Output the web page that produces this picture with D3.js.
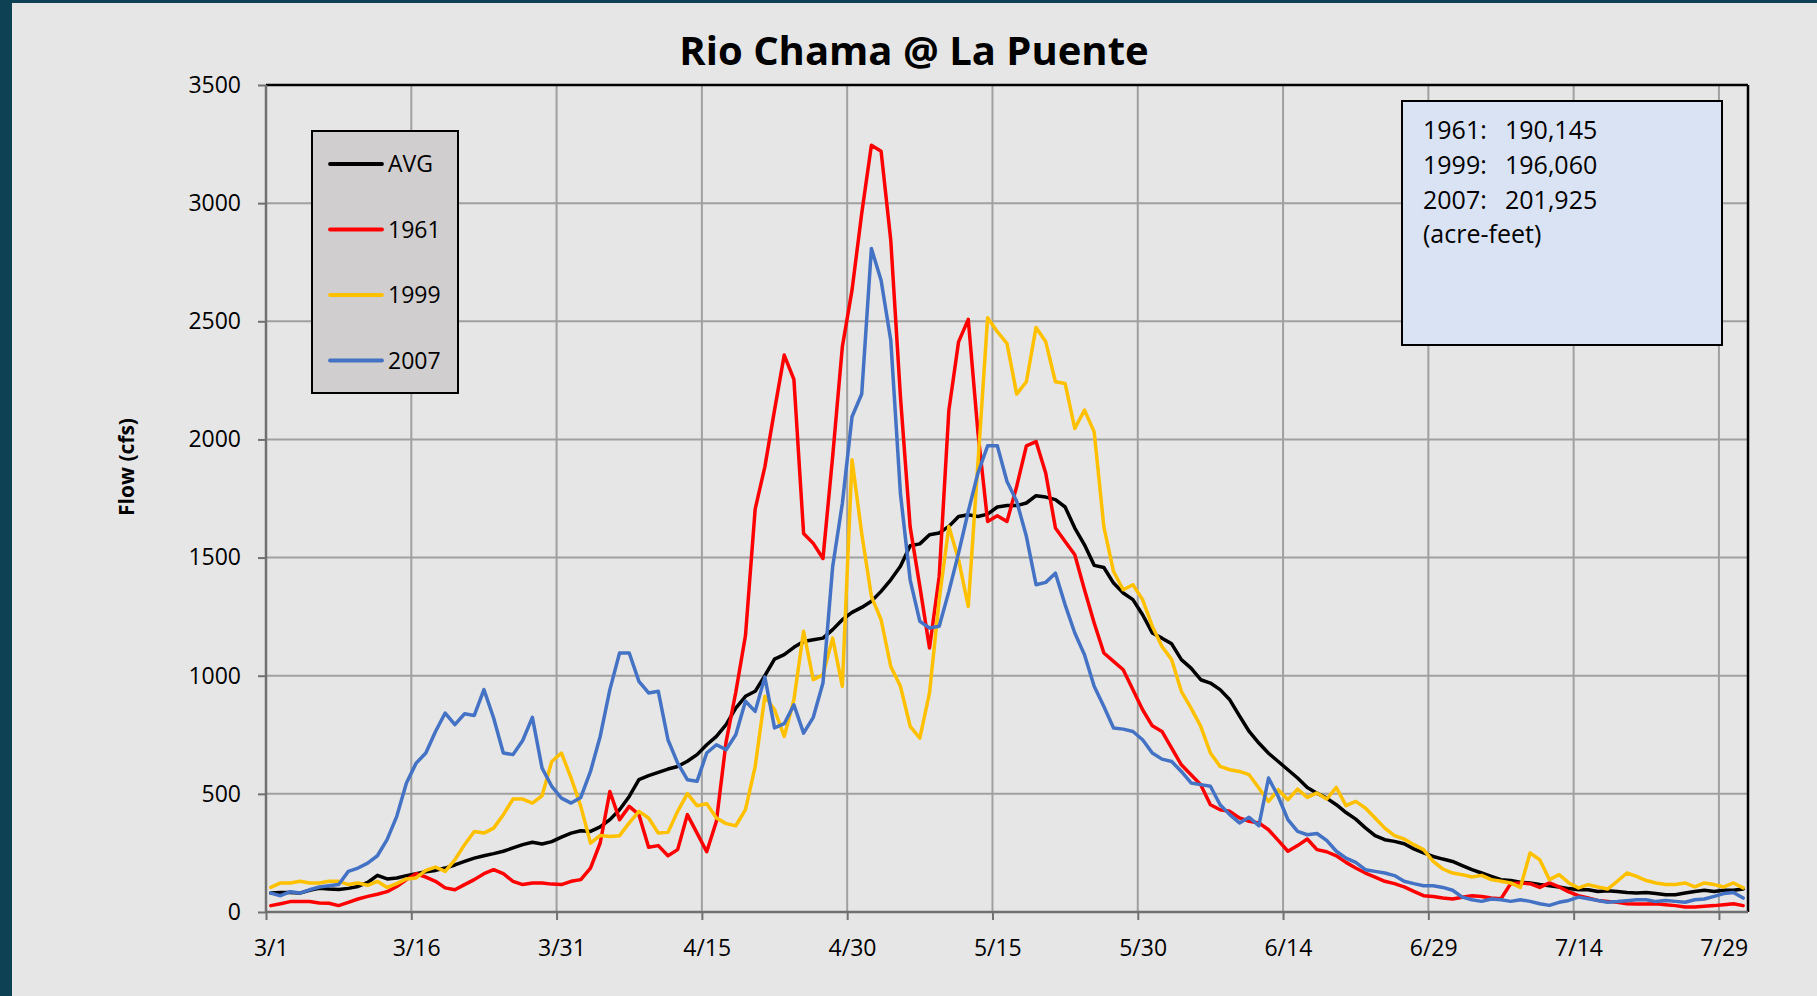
<!DOCTYPE html>
<html>
<head>
  <meta charset="utf-8">
  <title>Rio Chama @ La Puente</title>
  <script src="https://d3js.org/d3.v7.min.js"></script>
  <style>
    body { margin: 0; background: #0e4153; }
    svg { display: block; font-family: "Open Sans", sans-serif; }
  </style>
</head>
<body>
<script>
  // daily flow in cfs, one value per day from 3/1 to 7/31
  var avgFlow = [
    80, 83, 83, 80, 92, 100, 97, 95, 100, 108,
    125, 155, 140, 144, 154, 162, 170, 176, 186, 199,
    214, 228, 238, 247, 257, 271, 285, 295, 288, 298,
    317, 334, 344, 341, 360, 391, 433, 489, 560, 577,
    591, 605, 616, 638, 666, 708, 743, 793, 863, 913,
    934, 1000, 1070, 1089, 1120, 1145, 1152, 1159, 1195, 1237,
    1268, 1289, 1315, 1357, 1406, 1463, 1550, 1558, 1597, 1604,
    1632, 1674, 1681, 1674, 1684, 1714, 1720, 1720, 1731, 1762,
    1756, 1745, 1714, 1625, 1554, 1467, 1458, 1392, 1350, 1322,
    1258, 1181, 1159, 1135, 1068, 1032, 983, 969, 941, 898,
    830, 764, 715, 672, 637, 602, 567, 527, 503, 482,
    454, 421, 393, 356, 323, 306, 299, 289, 267, 250,
    235, 224, 214, 196, 179, 165, 151, 137, 133, 126,
    123, 116, 111, 106, 99, 94, 94, 87, 90, 87,
    83, 80, 83, 78, 73, 73, 80, 87, 92, 87,
    92, 92, 97
  ];
  var flow1961 = [
    27, 35, 44, 44, 44, 38, 37, 27, 41, 55,
    66, 75, 86, 108, 137, 162, 148, 130, 102, 94,
    116, 137, 162, 179, 162, 130, 116, 123, 123, 118,
    116, 130, 137, 186, 292, 510, 391, 447, 412, 274,
    281, 238, 264, 412, 334, 255, 384, 720, 930, 1170,
    1705, 1884, 2124, 2357, 2254, 1602, 1560, 1496, 1927, 2392,
    2632, 2956, 3245, 3220, 2843, 2180, 1630, 1378, 1117, 1420,
    2124, 2413, 2508, 2030, 1653, 1677, 1653, 1801, 1973, 1991,
    1857, 1625, 1568, 1512, 1364, 1223, 1096, 1061, 1025, 941,
    856, 788, 764, 694, 623, 581, 539, 454, 433, 426,
    398, 384, 377, 348, 303, 257, 281, 309, 264, 255,
    238, 210, 186, 165, 148, 130, 120, 106, 87, 69,
    66, 59, 55, 62, 69, 66, 59, 56, 120, 123,
    120, 104, 123, 106, 85, 69, 59, 49, 45, 41,
    35, 34, 34, 35, 31, 27, 21, 21, 24, 27,
    31, 35, 27
  ];
  var flow1999 = [
    104, 123, 123, 130, 123, 123, 130, 130, 116, 123,
    113, 130, 104, 120, 140, 144, 176, 190, 172, 221,
    285, 341, 334, 355, 412, 478, 478, 461, 492, 637,
    673, 567, 447, 292, 324, 320, 323, 377, 426, 398,
    334, 337, 426, 501, 450, 458, 398, 374, 365, 433,
    615, 913, 856, 743, 898, 1188, 983, 1004, 1159, 955,
    1914, 1602, 1336, 1237, 1039, 955, 786, 736, 927, 1322,
    1632, 1491, 1293, 1900, 2515, 2456, 2406, 2192, 2244, 2474,
    2413, 2244, 2237, 2046, 2124, 2032, 1630, 1441, 1364, 1385,
    1322, 1209, 1124, 1068, 934, 863, 786, 673, 616, 602,
    595, 581, 525, 468, 518, 475, 520, 485, 504, 478,
    527, 450, 468, 440, 398, 355, 323, 309, 285, 264,
    214, 182, 165, 158, 148, 155, 137, 130, 123, 104,
    250, 221, 137, 158, 123, 102, 116, 106, 97, 130,
    165, 151, 133, 123, 116, 116, 123, 106, 123, 116,
    106, 123, 102
  ];
  var flow2007 = [
    80, 69, 86, 80, 94, 106, 111, 116, 172, 186,
    207, 238, 306, 405, 546, 630, 673, 764, 842, 793,
    839, 832, 941, 821, 673, 666, 726, 824, 609, 532,
    482, 461, 485, 595, 743, 941, 1096, 1096, 976, 927,
    934, 729, 630, 560, 553, 673, 708, 687, 750, 892,
    849, 994, 779, 797, 877, 757, 824, 969, 1461, 1729,
    2096, 2192, 2808, 2674, 2420, 1770, 1406, 1230, 1202, 1209,
    1357, 1519, 1695, 1858, 1973, 1973, 1822, 1738, 1590, 1385,
    1395, 1434, 1300, 1181, 1089, 955, 870, 779, 774, 764,
    729, 673, 647, 637, 595, 546, 539, 532, 454, 412,
    377, 401, 365, 567, 489, 391, 341, 327, 332, 303,
    257, 228, 210, 179, 172, 165, 154, 130, 120, 111,
    111, 104, 92, 63, 52, 45, 55, 52, 45, 52,
    45, 35, 28, 41, 49, 63, 56, 49, 41, 44,
    48, 52, 52, 44, 49, 45, 41, 52, 55, 66,
    78, 83, 59
  ];
  var seriesNames = ['AVG', '1961', '1999', '2007'];
  var seriesColors = ['#000000', '#ff0000', '#ffc000', '#4472c4'];
  var tickDays = [0, 15, 30, 45, 60, 75, 90, 105, 120, 135, 150];
  var tickLabels = ['3/1', '3/16', '3/31', '4/15', '4/30', '5/15', '5/30', '6/14', '6/29', '7/14', '7/29'];
  var yTicks = [0, 500, 1000, 1500, 2000, 2500, 3000, 3500];
  var volumeYears = ['1961:', '1999:', '2007:'];
  var volumeValues = ['190,145', '196,060', '201,925'];

  var W = 1817, H = 996
  var plotL = 266, plotR = 1748, plotT = 85, plotB = 912

  var svg = d3.select('body').append('svg')
      .attr('width', W)
      .attr('height', H)

  // chart background inside the dark frame
  svg.append('rect')
      .attr('x', 12).attr('y', 3)
      .attr('width', W - 12).attr('height', H - 3)
      .attr('fill', '#e6e6e6')

  var x = d3.scaleLinear().domain([0, 153]).range([plotL, plotR])
  var y = d3.scaleLinear().domain([0, 3500]).range([plotB, plotT])

  // gridlines
  svg.append('g').selectAll('line')
      .data(yTicks.slice(1, -1))
      .enter().append('line')
      .attr('x1', plotL).attr('x2', plotR)
      .attr('y1', function (d) { return y(d) })
      .attr('y2', function (d) { return y(d) })
      .attr('stroke', '#a0a0a0')
      .attr('stroke-width', 2)
  svg.append('g').selectAll('line')
      .data(tickDays.slice(1))
      .enter().append('line')
      .attr('x1', function (d) { return x(d) })
      .attr('x2', function (d) { return x(d) })
      .attr('y1', plotT).attr('y2', plotB)
      .attr('stroke', '#a0a0a0')
      .attr('stroke-width', 2)

  // series lines, points sit in the middle of each day
  var allSeries = [avgFlow, flow1961, flow1999, flow2007]
  var line = d3.line()
      .x(function (d, i) { return x(i + 0.5) })
      .y(function (d) { return y(d) })
  svg.append('g').selectAll('path')
      .data(allSeries)
      .enter().append('path')
      .attr('d', line)
      .attr('fill', 'none')
      .attr('stroke', function (d, i) { return seriesColors[i] })
      .attr('stroke-width', 3.5)
      .attr('stroke-linejoin', 'round')
      .attr('stroke-linecap', 'round')

  // plot border: black top and right, gray axes
  svg.append('line')
      .attr('x1', plotL).attr('x2', plotR).attr('y1', plotT).attr('y2', plotT)
      .attr('stroke', '#000').attr('stroke-width', 2.5)
  svg.append('line')
      .attr('x1', plotR).attr('x2', plotR).attr('y1', plotT).attr('y2', plotB)
      .attr('stroke', '#000').attr('stroke-width', 2.5)

  var yAxis = d3.axisLeft(y)
      .tickValues(yTicks)
      .tickSize(8)
      .tickPadding(17)
      .tickFormat(d3.format('d'))
  var gy = svg.append('g')
      .attr('transform', 'translate(' + plotL + ',0)')
      .call(yAxis)
  gy.select('.domain').remove()
  gy.selectAll('.tick line').attr('stroke', '#707070').attr('stroke-width', 2)
  gy.selectAll('.tick text')
      .attr('fill', '#000')
      .style('font-size', '23px')
      .style('font-family', '"Open Sans", sans-serif')

  var xAxis = d3.axisBottom(x)
      .tickValues(tickDays)
      .tickSize(8)
      .tickFormat(function (d, i) { return tickLabels[i] })
  var gx = svg.append('g')
      .attr('transform', 'translate(0,' + plotB + ')')
      .call(xAxis)
  gx.select('.domain').remove()
  gx.selectAll('.tick line').attr('stroke', '#707070').attr('stroke-width', 2)
  gx.selectAll('.tick text')
      .attr('fill', '#000')
      .attr('x', x(0.5) - x(0))
      .attr('y', 28)
      .style('font-size', '23px')
      .style('font-family', '"Open Sans", sans-serif')

  svg.append('line')
      .attr('x1', plotL).attr('x2', plotL).attr('y1', plotT).attr('y2', plotB + 1)
      .attr('stroke', '#707070').attr('stroke-width', 2.5)
  svg.append('line')
      .attr('x1', plotL - 1).attr('x2', plotR).attr('y1', plotB).attr('y2', plotB)
      .attr('stroke', '#707070').attr('stroke-width', 2.5)

  // title and axis label
  svg.append('text')
      .attr('x', 914).attr('y', 65)
      .attr('text-anchor', 'middle')
      .style('font-size', '40px')
      .style('font-weight', 'bold')
      .text('Rio Chama @ La Puente')
  svg.append('text')
      .attr('transform', 'translate(134,467) rotate(-90)')
      .attr('text-anchor', 'middle')
      .style('font-size', '21px')
      .style('font-weight', 'bold')
      .text('Flow (cfs)')

  // legend
  var legend = svg.append('g')
  legend.append('rect')
      .attr('x', 312).attr('y', 131)
      .attr('width', 146).attr('height', 262)
      .attr('fill', '#d0cece')
      .attr('stroke', '#000').attr('stroke-width', 2)
  var entries = legend.selectAll('g.entry')
      .data(seriesNames)
      .enter().append('g')
      .attr('class', 'entry')
      .attr('transform', function (d, i) { return 'translate(0,' + (164 + i * 65.5) + ')' })
  entries.append('line')
      .attr('x1', 330).attr('x2', 382)
      .attr('y1', 0).attr('y2', 0)
      .attr('stroke', function (d, i) { return seriesColors[i] })
      .attr('stroke-width', 3.8)
      .attr('stroke-linecap', 'round')
  entries.append('text')
      .attr('x', 388).attr('y', 8)
      .style('font-size', '23px')
      .text(function (d) { return d })

  // volume box
  var box = svg.append('g')
  box.append('rect')
      .attr('x', 1402).attr('y', 101)
      .attr('width', 320).attr('height', 244)
      .attr('fill', '#dae3f3')
      .attr('stroke', '#000').attr('stroke-width', 2)
  box.selectAll('text.yr')
      .data(volumeYears)
      .enter().append('text')
      .attr('class', 'yr')
      .attr('x', 1423)
      .attr('y', function (d, i) { return 139 + i * 34.8 })
      .style('font-size', '25px')
      .text(function (d) { return d })
  box.selectAll('text.val')
      .data(volumeValues)
      .enter().append('text')
      .attr('class', 'val')
      .attr('x', 1505)
      .attr('y', function (d, i) { return 139 + i * 34.8 })
      .style('font-size', '25px')
      .text(function (d) { return d })
  box.append('text')
      .attr('x', 1423).attr('y', 139 + 3 * 34.8)
      .style('font-size', '25px')
      .text('(acre-feet)')
</script>
</body>
</html>
